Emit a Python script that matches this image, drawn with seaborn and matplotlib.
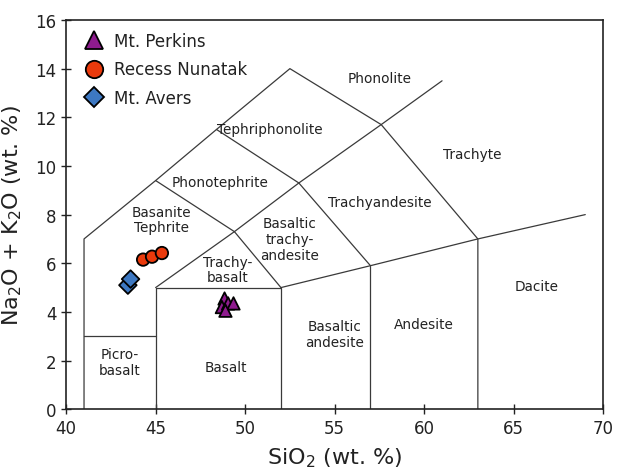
import pandas as pd
import matplotlib
matplotlib.use("Agg")
import matplotlib.pyplot as plt
import seaborn as sns

# sample data (SiO2, Na2O+K2O)
perkins_si = [48.85, 48.7, 49.05, 49.35, 48.9]
perkins_alk = [4.55, 4.2, 4.35, 4.35, 4.05]
recess_si = [44.3, 44.8, 45.35]
recess_alk = [6.15, 6.27, 6.42]
avers_si = [43.45, 43.6]
avers_alk = [5.1, 5.35]

groups = ["Mt. Perkins", "Recess Nunatak", "Mt. Avers"]
colors = {"Mt. Perkins": "#8e1b8e", "Recess Nunatak": "#ea3a0c", "Mt. Avers": "#3d78c2"}
markers = {"Mt. Perkins": "^", "Recess Nunatak": "o", "Mt. Avers": "D"}

# TAS field boundaries (Le Bas et al. 1986)
boundaries = [
    [(41, 0), (41, 7), (45, 9.4), (48.4, 11.5), (52.5, 14), (57.6, 11.7), (63, 7), (63, 0)],
    [(41, 3), (45, 3)],
    [(45, 0), (45, 5), (52, 5), (52, 0)],
    [(45, 5), (49.4, 7.3), (52, 5)],
    [(52, 5), (57, 5.9), (63, 7), (69, 8)],
    [(57, 0), (57, 5.9)],
    [(49.4, 7.3), (53, 9.3), (57.6, 11.7), (61, 13.5)],
    [(57, 5.9), (53, 9.3), (48.4, 11.5)],
    [(45, 9.4), (49.4, 7.3)],
]

labels = [
    ("Phonolite", 57.5, 13.6),
    ("Tephriphonolite", 51.4, 11.5),
    ("Trachyte", 62.7, 10.5),
    ("Phonotephrite", 48.6, 9.35),
    ("Trachyandesite", 57.5, 8.5),
    ("Basanite\nTephrite", 45.3, 7.8),
    ("Basaltic\ntrachy-\nandesite", 52.5, 7.0),
    ("Trachy-\nbasalt", 49.0, 5.75),
    ("Dacite", 66.3, 5.05),
    ("Andesite", 60.0, 3.5),
    ("Basaltic\nandesite", 55.0, 3.1),
    ("Basalt", 48.9, 1.75),
    ("Picro-\nbasalt", 43.0, 1.95),
]

df = pd.DataFrame({
    "SiO2": perkins_si + recess_si + avers_si,
    "alk": perkins_alk + recess_alk + avers_alk,
    "group": [groups[0]] * len(perkins_si) + [groups[1]] * len(recess_si) + [groups[2]] * len(avers_si),
})

sns.set_style("ticks")
plt.rcParams["font.family"] = ["DejaVu Sans"]

fig = plt.figure(figsize=(6.18, 4.77), dpi=100)
ax = fig.add_axes([0.107, 0.140, 0.869, 0.816])

for seg in boundaries:
    xs = [p[0] for p in seg]
    ys = [p[1] for p in seg]
    ax.plot(xs, ys, color="#3a3a3a", lw=0.9, zorder=1)

for text, x, y in labels:
    ax.text(x, y, text, ha="center", va="center", fontsize=9.8, color="#222222",
            linespacing=1.15, zorder=2)

sns.scatterplot(data=df, x="SiO2", y="alk", hue="group", style="group",
                palette=colors, markers=markers, hue_order=groups, style_order=groups,
                s=80, edgecolor="black", linewidth=1.3, ax=ax, zorder=3)

ax.set_xlim(40, 70)
ax.set_ylim(0, 16)
ax.set_xticks(range(40, 71, 5))
ax.set_yticks(range(0, 17, 2))
ax.tick_params(direction="inout", length=7, width=1, labelsize=12, color="#222222",
               labelcolor="#222222", top=False, right=False)
for sp in ax.spines.values():
    sp.set_visible(True)
    sp.set_color("#222222")
    sp.set_linewidth(1.2)

ax.set_xlabel(r"SiO$_2$ (wt. %)", fontsize=16, color="#222222", labelpad=6)
ax.set_ylabel(r"Na$_2$O + K$_2$O (wt. %)", fontsize=16, color="#222222", labelpad=8)

leg = ax.legend(loc="upper left", frameon=False, fontsize=12, markerscale=1.4,
                handletextpad=0.2, labelspacing=0.65, borderaxespad=0.3)
for t in leg.get_texts():
    t.set_color("#222222")
for h in leg.legend_handles:
    if h.get_marker() == "D":
        h.set_markersize(h.get_markersize() * 0.8)

fig.savefig("out.png", dpi=100)
